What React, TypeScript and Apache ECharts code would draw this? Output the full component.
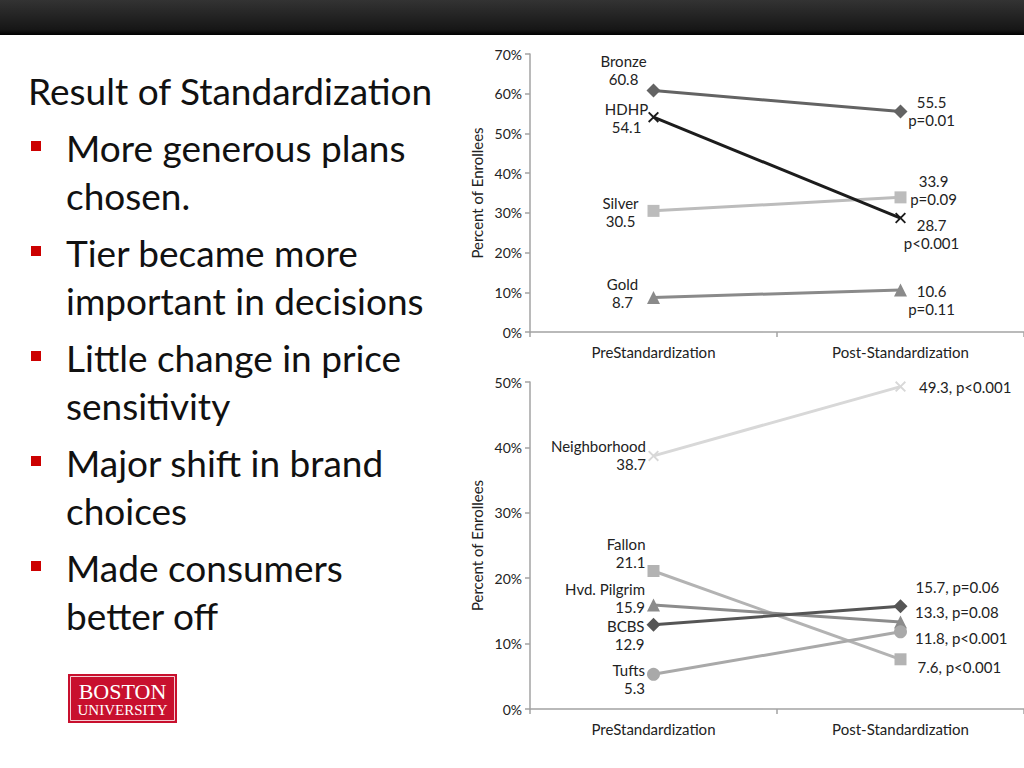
import React, { useEffect, useRef } from "react";
import * as echarts from "echarts";

// ---------- data ----------
const categories = ["PreStandardization", "Post-Standardization"];

const tierNames = ["Bronze", "HDHP", "Silver", "Gold"];
const bronzeValues = [60.8, 55.5];
const hdhpValues = [54.1, 28.7];
const silverValues = [30.5, 33.9];
const goldValues = [8.7, 10.6];
const tierPValues = ["p=0.01", "p<0.001", "p=0.09", "p=0.11"];
const tierTicks = [0, 70, 10];

const brandNames = ["Neighborhood", "Fallon", "Hvd. Pilgrim", "BCBS", "Tufts"];
const neighborhoodValues = [38.7, 49.3];
const fallonValues = [21.1, 7.6];
const pilgrimValues = [15.9, 13.3];
const bcbsValues = [12.9, 15.7];
const tuftsValues = [5.3, 11.8];
const brandPValues = ["p<0.001", "p<0.001", "p=0.08", "p=0.06", "p<0.001"];
const brandTicks = [0, 50, 10];

const yAxisTitle = "Percent of Enrollees";
const slideTitle = "Result of Standardization";
const bullets = [
  ["More generous plans", "chosen."],
  ["Tier became more", "important in decisions"],
  ["Little change in price", "sensitivity"],
  ["Major shift in brand", "choices"],
  ["Made consumers", "better off"],
];
const logoLines = ["BOSTON", "UNIVERSITY"];

// ---------- styling ----------
const SANS = "Lato, 'Open Sans', sans-serif";
const XMARK =
  "path://M0,1.2L1.2,0L5,3.8L8.8,0L10,1.2L6.2,5L10,8.8L8.8,10L5,6.2L1.2,10L0,8.8L3.8,5Z";

const fmt = (v: number) => v.toFixed(1);

export default function App() {
  const ref = useRef<HTMLDivElement>(null);

  useEffect(() => {
    if (!ref.current) return;
    const chart = echarts.init(ref.current, undefined, { renderer: "svg" });

    const labelText = { fontFamily: SANS, fontSize: 15, color: "#222", lineHeight: 18 };

    const tierSeries = [
      { name: tierNames[0], data: bronzeValues, color: "#636363", symbol: "diamond", size: 14, p: tierPValues[0], preOff: [-30, -21], postOff: [31, -1] },
      { name: tierNames[2], data: silverValues, color: "#bcbcbc", symbol: "rect", size: 12, p: tierPValues[2], preOff: [-33, 1], postOff: [33, -7] },
      { name: tierNames[3], data: goldValues, color: "#8a8a8a", symbol: "triangle", size: 13, p: tierPValues[3], preOff: [-31, -4], postOff: [31, 10] },
      { name: tierNames[1], data: hdhpValues, color: "#1c1c1c", symbol: XMARK, size: 11, p: tierPValues[1], preOff: [-27, 1], postOff: [31, 16] },
    ].map((s) => ({
      type: "line",
      name: s.name,
      xAxisIndex: 0,
      yAxisIndex: 0,
      symbol: s.symbol,
      symbolSize: s.size,
      lineStyle: { color: s.color, width: 3 },
      itemStyle: { color: s.color },
      z: 3,
      data: s.data.map((v, i) => ({
        value: v,
        label: {
          show: true,
          position: "inside",
          align: "center",
          verticalAlign: "middle",
          offset: i === 0 ? s.preOff : s.postOff,
          formatter: i === 0 ? `${s.name}\n${fmt(v)}` : `${fmt(v)}\n${s.p}`,
          ...labelText,
        },
      })),
    }));

    const brandSeries = [
      { name: brandNames[0], data: neighborhoodValues, color: "#d8d8d8", symbol: XMARK, size: 11, p: brandPValues[0], preDy: -1, postDy: 0, postDist: 13 },
      { name: brandNames[1], data: fallonValues, color: "#b3b3b3", symbol: "rect", size: 12, p: brandPValues[1], preDy: -18, postDy: 8, postDist: 11 },
      { name: brandNames[2], data: pilgrimValues, color: "#8c8c8c", symbol: "triangle", size: 13, p: brandPValues[2], preDy: -7, postDy: -10, postDist: 8 },
      { name: brandNames[4], data: tuftsValues, color: "#a9a9a9", symbol: "circle", size: 13, p: brandPValues[4], preDy: 5, postDy: 6, postDist: 8 },
      { name: brandNames[3], data: bcbsValues, color: "#555555", symbol: "diamond", size: 14, p: brandPValues[3], preDy: 10, postDy: -19, postDist: 8 },
    ].map((s) => ({
      type: "line",
      name: s.name,
      xAxisIndex: 1,
      yAxisIndex: 1,
      symbol: s.symbol,
      symbolSize: s.size,
      lineStyle: { color: s.color, width: 3 },
      itemStyle: { color: s.color },
      z: 3,
      data: s.data.map((v, i) => ({
        value: v,
        label: {
          show: true,
          position: i === 0 ? "left" : "right",
          distance: i === 0 ? 2 : s.postDist,
          align: i === 0 ? "right" : "left",
          verticalAlign: "middle",
          offset: [0, i === 0 ? s.preDy : s.postDy],
          formatter: i === 0 ? `${s.name}\n${fmt(v)}` : `${fmt(v)}, ${s.p}`,
          ...labelText,
        },
      })),
    }));

    const axisGray = "#a3a3a3";
    const makeX = (gridIndex: number) => ({
      type: "category",
      gridIndex,
      data: categories,
      boundaryGap: true,
      axisLine: { lineStyle: { color: axisGray, width: 1.5 } },
      axisTick: { show: true, length: 5, interval: 0, lineStyle: { color: axisGray, width: 1.5 } },
      axisLabel: { fontFamily: SANS, fontSize: 15, color: "#222", margin: 12 },
      splitLine: { show: false },
    });
    const makeY = (gridIndex: number, ticks: number[]) => ({
      type: "value",
      gridIndex,
      min: ticks[0],
      max: ticks[1],
      interval: ticks[2],
      name: yAxisTitle,
      nameLocation: "middle",
      nameGap: 46,
      nameRotate: 90,
      nameTextStyle: { fontFamily: SANS, fontSize: 15, color: "#222" },
      axisLine: { show: true, lineStyle: { color: axisGray, width: 1.5 } },
      axisTick: { show: true, length: 5, lineStyle: { color: axisGray, width: 1.5 } },
      axisLabel: { fontFamily: SANS, fontSize: 14, color: "#222", margin: 8, formatter: "{value}%" },
      splitLine: { show: false },
    });

    const BIG = `37px ${SANS}`;
    const graphics: any[] = [
      {
        type: "rect",
        shape: { x: 0, y: 0, width: 1024, height: 35 },
        style: {
          fill: new echarts.graphic.LinearGradient(0, 0, 0, 1, [
            { offset: 0, color: "#333333" },
            { offset: 0.85, color: "#161616" },
            { offset: 1, color: "#000000" },
          ]),
        },
        silent: true,
      },
      {
        type: "text",
        style: { text: slideTitle, x: 28, y: 90, font: BIG, fill: "#111", verticalAlign: "middle" },
      },
    ];
    bullets.forEach((lines, i) => {
      const y0 = 147 + i * 105;
      graphics.push({ type: "rect", shape: { x: 31, y: y0 - 6, width: 10, height: 10 }, style: { fill: "#cc0000" } });
      lines.forEach((t, j) => {
        graphics.push({
          type: "text",
          style: { text: t, x: 66, y: y0 + j * 48, font: BIG, fill: "#111", verticalAlign: "middle" },
        });
      });
    });
    // logo
    graphics.push(
      { type: "rect", shape: { x: 68, y: 674, width: 109, height: 49 }, style: { fill: "#c8102e" } },
      { type: "rect", shape: { x: 70.5, y: 676.5, width: 104, height: 44 }, style: { fill: "none", stroke: "#ffffff", lineWidth: 0.8 } },
      { type: "text", style: { text: logoLines[0], x: 122.5, y: 691, font: "22px 'Liberation Serif', serif", fill: "#ffffff", align: "center", verticalAlign: "middle" } },
      { type: "text", style: { text: logoLines[1], x: 122.5, y: 710, font: "15px 'Liberation Serif', serif", fill: "#ffffff", align: "center", verticalAlign: "middle" } }
    );

    chart.setOption({
      animation: false,
      backgroundColor: "#ffffff",
      grid: [
        { left: 530, top: 54, width: 500, height: 278 },
        { left: 530, top: 382, width: 500, height: 327 },
      ],
      xAxis: [makeX(0), makeX(1)],
      yAxis: [makeY(0, tierTicks), makeY(1, brandTicks)],
      series: [...tierSeries, ...brandSeries],
      graphic: graphics,
    });

    return () => chart.dispose();
  }, []);

  return (
    <div
      ref={ref}
      style={{ position: "absolute", left: 0, top: 0, width: 1024, height: 768 }}
    />
  );
}
